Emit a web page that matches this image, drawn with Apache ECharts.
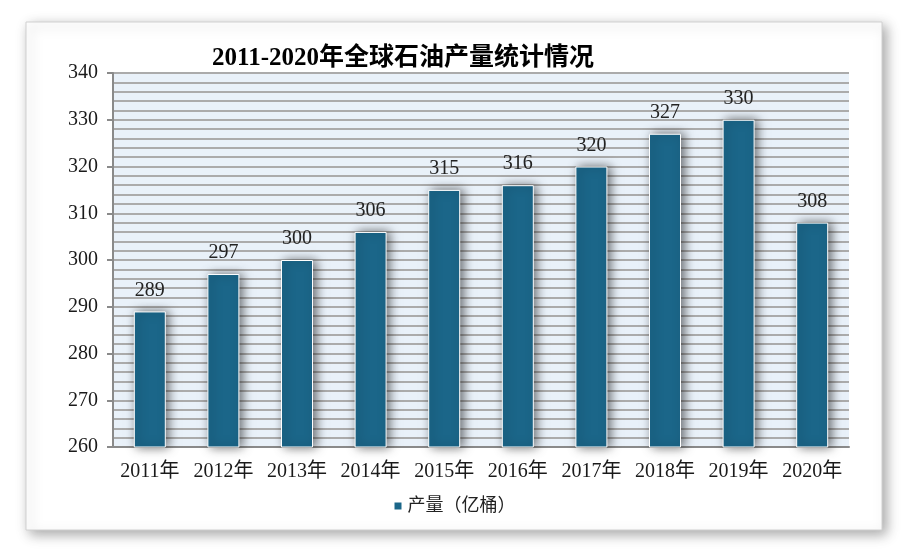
<!DOCTYPE html>
<html><head><meta charset="utf-8">
<script src="https://cdn.jsdelivr.net/npm/echarts@6/dist/echarts.min.js"></script>
<style>html,body{margin:0;padding:0;background:#fff}#c{width:908px;height:553px}</style>
</head><body><div id="c"></div>
<script>
const categories = ['2011年','2012年','2013年','2014年','2015年','2016年','2017年','2018年','2019年','2020年'];
const production = [289,297,300,306,315,316,320,327,330,308];
const titleText = '2011-2020年全球石油产量统计情况';
const seriesName = '产量（亿桶）';
const serif = '"Liberation Serif","Times New Roman","Noto Sans CJK SC",serif';

const chart = echarts.init(document.getElementById('c'));
chart.setOption({
  animation: false,
  backgroundColor: '#fff',
  graphic: [{
    type: 'rect', z: -10, silent: true,
    shape: {x: 26, y: 22, width: 856, height: 508},
    style: {fill: '#fff', stroke: '#d0d0d0', lineWidth: 1, shadowBlur: 12, shadowColor: 'rgba(0,0,0,0.35)', shadowOffsetX: 4, shadowOffsetY: 4}
  }],
  title: {
    text: titleText, left: 398, top: 41, textAlign: 'center',
    textStyle: {fontFamily: serif, fontSize: 25, fontWeight: 'bold', color: '#000'}
  },
  legend: {
    data: [seriesName], top: 492, left: 'center', icon: 'rect', itemWidth: 9, itemHeight: 9, itemGap: 3,
    textStyle: {fontFamily: serif, fontSize: 18, color: '#222'}
  },
  grid: {left: 113, right: 59, top: 73, bottom: 106, show: true, backgroundColor: '#e9f1f9', borderWidth: 0},
  xAxis: {
    type: 'category', data: categories,
    axisLine: {lineStyle: {color: '#8a8a8a', width: 2}},
    axisTick: {show: false},
    axisLabel: {interval: 0, fontFamily: serif, fontSize: 20, color: '#1a1a1a', margin: 15}
  },
  yAxis: {
    type: 'value', min: 260, max: 340, interval: 10,
    axisLine: {show: true, lineStyle: {color: '#8a8a8a', width: 2}},
    axisTick: {show: true, length: 6, lineStyle: {color: '#8a8a8a', width: 2}},
    axisLabel: {fontFamily: serif, fontSize: 20, color: '#1a1a1a', margin: 15},
    splitLine: {show: true, lineStyle: {color: '#ababab', width: 2}},
    minorTick: {show: false, splitNumber: 5},
    minorSplitLine: {show: true, lineStyle: {color: '#ababab', width: 2}}
  },
  series: [{
    name: seriesName, type: 'bar', data: production, barWidth: 32,
    itemStyle: {color: '#1b6689', borderColor: '#ffffff', borderWidth: 1,
      shadowBlur: 10, shadowColor: 'rgba(0,0,0,0.55)', shadowOffsetX: 3, shadowOffsetY: 0},
    label: {show: true, position: 'top', distance: 11, fontFamily: serif, fontSize: 20, color: '#222'}
  }]
});
</script></body></html>
